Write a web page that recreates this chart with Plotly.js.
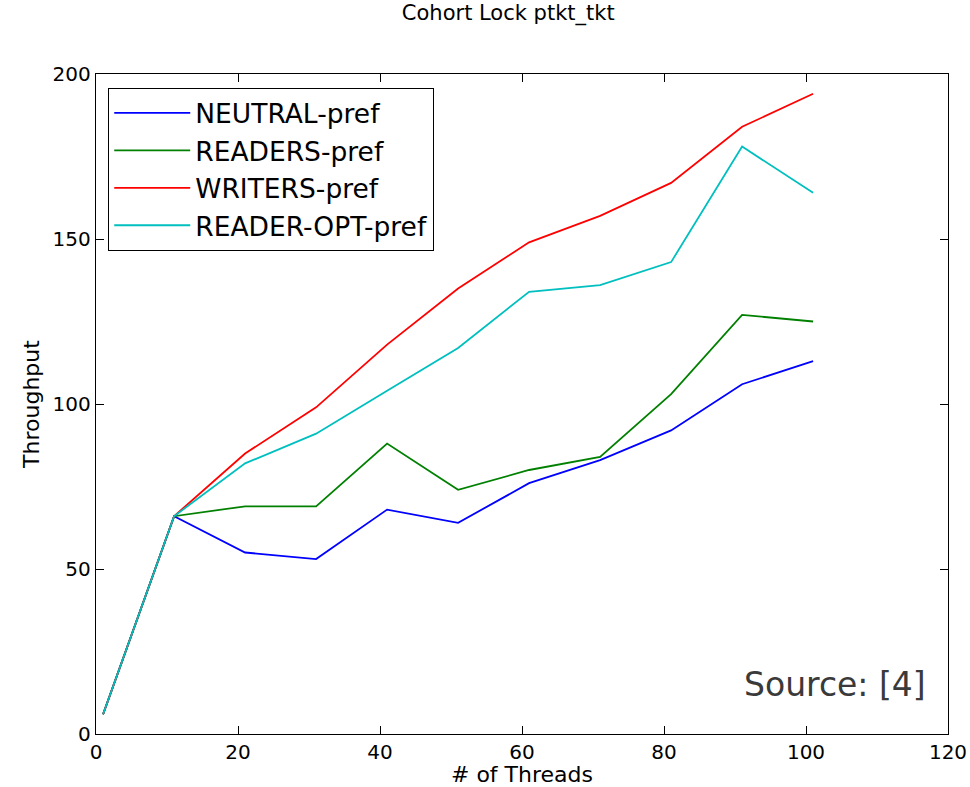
<!DOCTYPE html>
<html>
<head>
<meta charset="utf-8">
<script src="https://cdn.plot.ly/plotly-3.0.1.min.js"></script>
<style>html,body{margin:0;padding:0;background:#fff;}#chart{width:970px;height:787px;}</style>
</head>
<body>
<div id="chart"></div>
<script>
const threads = [1, 11, 21, 31, 41, 51, 61, 71, 81, 91, 101];
const neutralPref = [6, 66, 55, 53, 68, 64, 76, 83, 92, 106, 113];
const readersPref = [6, 66, 69, 69, 88, 74, 80, 84, 103, 127, 125];
const writersPref = [6, 66, 85, 99, 118, 135, 149, 157, 167, 184, 194];
const readerOptPref = [6, 66, 82, 91, 104, 117, 134, 136, 143, 178, 164];
const seriesNames = ['NEUTRAL-pref', 'READERS-pref', 'WRITERS-pref', 'READER-OPT-pref'];
const seriesColors = ['#0000ff', '#008000', '#ff0000', '#00bfbf'];
const seriesValues = [neutralPref, readersPref, writersPref, readerOptPref];
const xTicks = [0, 20, 40, 60, 80, 100, 120];
const yTicks = [0, 50, 100, 150, 200];

const traces = seriesValues.map((v, i) => ({
  x: threads, y: v, type: 'scatter', mode: 'lines', name: seriesNames[i],
  legendgroup: 'g' + i,
  line: {color: seriesColors[i], width: 1.8}
}));

const axisCommon = {
  showgrid: false, zeroline: false, showline: true, linecolor: '#000', linewidth: 1.3,
  mirror: 'ticks', ticks: 'inside', ticklen: 8, tickcolor: '#000', tickwidth: 1,
  tickfont: {family: 'DejaVu Sans', size: 20, color: '#000'}
};

const layout = {
  width: 970, height: 787,
  margin: {l: 96, r: 22, t: 74, b: 53},
  paper_bgcolor: '#fff', plot_bgcolor: '#fff',
  font: {family: 'DejaVu Sans', color: '#000'},
  title: {text: 'Cohort Lock ptkt_tkt', font: {family: 'DejaVu Sans', size: 21, color: '#000'},
          xref: 'container', x: 0.524, xanchor: 'center', yref: 'container', y: 0.993, yanchor: 'top'},
  xaxis: Object.assign({}, axisCommon, {range: [0, 120], tickvals: xTicks, ticktext: xTicks.map(String),
          title: {text: '# of Threads', font: {family: 'DejaVu Sans', size: 22}, standoff: 1}}),
  yaxis: Object.assign({}, axisCommon, {range: [0, 200], tickvals: yTicks, ticktext: yTicks.map(String),
          title: {text: 'Throughput', font: {family: 'DejaVu Sans', size: 22}, standoff: 6}}),
  showlegend: true,
  legend: {x: 0.014, y: 0.979, xanchor: 'left', yanchor: 'top', bgcolor: '#fff',
           bordercolor: '#000', borderwidth: 1.3, font: {family: 'DejaVu Sans', size: 26.5, color: '#000'},
           tracegroupgap: 4, itemwidth: 76, traceorder: 'normal'},
  annotations: [{text: 'Source: [4]', xref: 'paper', yref: 'paper', x: 0.977, y: 0.075,
                 xanchor: 'right', yanchor: 'middle', showarrow: false,
                 font: {family: 'DejaVu Sans', size: 33, color: '#3a3a3a'}}]
};

Plotly.newPlot('chart', traces, layout, {displayModeBar: false, staticPlot: true});
</script>
</body>
</html>
